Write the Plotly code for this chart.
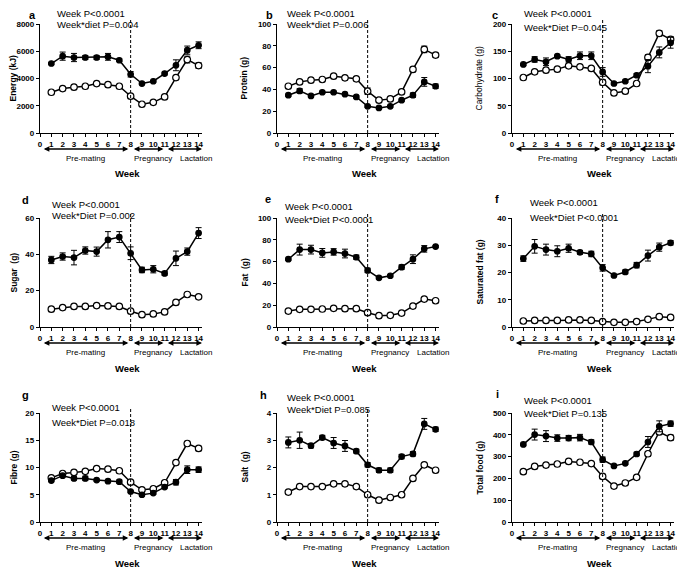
import plotly.graph_objects as go

weeks = list(range(1, 15))

# panel order: a..i
letters = ["a", "b", "c", "d", "e", "f", "g", "h", "i"]
ytitles = ["Energy (kJ)", "Protein (g)", "Carbohydrate (g)",
           "Sugar  (g)", "Fat  (g)", "Saturated fat (g)",
           "Fibre (g)", "Salt  (g)", "Total food (g)"]
week_p = ["Week P<0.0001"] * 9
inter_p = ["Week*diet P=0.004", "Week*diet P=0.006", "Week*Diet P=0.045",
           "Week*Diet P=0.002", "Week*Diet P<0.0001", "Week*Diet P<0.0001",
           "Week*Diet P=0.018", "Week*Diet P=0.085", "Week*Diet P=0.135"]
ytop = [8000, 100, 200, 60, 100, 40, 20, 4, 500]
ydtick = [2000, 20, 50, 20, 20, 10, 5, 1, 100]

# closed (filled) circles
energy_c = [5100, 5640, 5540, 5540, 5540, 5590, 5340, 4310, 3630, 3800, 4360, 4970, 6080, 6440]
energy_c_err = [80, 300, 300, 150, 150, 250, 100, 200, 60, 60, 100, 400, 300, 250]
energy_o = [2990, 3260, 3360, 3430, 3630, 3550, 3430, 2700, 2110, 2250, 2650, 4070, 5390, 4950]
energy_o_err = [60, 60, 60, 60, 60, 60, 60, 120, 60, 60, 60, 80, 250, 200]

protein_c = [34.7, 38.6, 34.0, 37.4, 37.4, 35.6, 33.1, 24.5, 23.0, 24.5, 30.1, 34.7, 46.9, 42.9]
protein_c_err = [1, 2, 1, 1, 1, 1, 1, 1, 0.8, 0.8, 1, 2, 4, 2]
protein_o = [42.9, 46.9, 48.5, 49.1, 52.1, 50.6, 49.7, 38.3, 30.1, 31.3, 37.7, 58.3, 76.7, 71.5]
protein_o_err = [1, 1, 1, 1, 1, 1, 1, 3, 1, 1, 1, 2, 3, 2]

carb_c = [125.8, 135, 130.7, 141, 135, 141.7, 141.7, 112, 90.8, 95, 106, 122.7, 147.9, 165.6]
carb_c_err = [2, 5, 7, 2, 5, 7, 7, 8, 2, 2, 3, 12, 10, 10]
carb_o = [101.8, 112.3, 115.3, 117.2, 123.3, 121.5, 118.4, 93, 73.6, 76.7, 90.8, 138.6, 182.8, 171.8]
carb_o_err = [2, 2, 2, 2, 2, 2, 2, 5, 2, 2, 2, 5, 5, 5]

sugar_c = [36.9, 38.8, 38.2, 42.1, 41.5, 48.0, 49.5, 40.6, 31.4, 31.8, 29.5, 37.8, 41.5, 51.7]
sugar_c_err = [2, 2, 4, 2, 2.5, 4.5, 3, 3.5, 1.5, 2, 1, 4, 2, 3]
sugar_o = [9.8, 10.7, 11.3, 11.3, 11.8, 11.6, 11.3, 8.7, 6.8, 7.2, 8.3, 13.5, 17.9, 16.6]
sugar_o_err = [0.3] * 14

fat_c = [62.2, 71.0, 71.0, 68.0, 68.9, 67.4, 64.0, 51.9, 45.1, 47.0, 54.9, 62.2, 71.7, 73.8]
fat_c_err = [1, 5, 4, 4, 3, 4, 2, 2, 1, 1, 2, 4, 3, 1]
fat_o = [14.6, 16.2, 16.2, 16.5, 17.1, 16.8, 16.8, 13.1, 10.4, 10.7, 12.8, 19.2, 25.6, 24.1]
fat_o_err = [0.5] * 14

satfat_c = [25.1, 29.6, 28.4, 27.8, 28.9, 27.4, 26.8, 21.7, 18.9, 20.2, 22.7, 26.2, 29.3, 30.9]
satfat_c_err = [1, 2.5, 2, 2, 1.5, 0.7, 1, 1.2, 0.4, 0.7, 1, 2, 1.5, 0.8]
satfat_o = [2.2, 2.4, 2.4, 2.4, 2.6, 2.6, 2.4, 2.0, 1.7, 1.7, 2.0, 2.8, 3.8, 3.5]
satfat_o_err = [0.1] * 14

fibre_c = [7.6, 8.5, 8.0, 8.0, 7.7, 7.5, 7.4, 5.6, 5.0, 5.3, 6.4, 7.3, 9.6, 9.6]
fibre_c_err = [0.2, 0.2, 0.3, 0.4, 0.2, 0.2, 0.3, 0.2, 0.2, 0.2, 0.2, 0.5, 0.7, 0.5]
fibre_o = [8.1, 8.9, 9.1, 9.3, 9.8, 9.7, 9.4, 7.3, 5.9, 6.1, 7.2, 10.9, 14.4, 13.5]
fibre_o_err = [0.15, 0.15, 0.15, 0.15, 0.15, 0.15, 0.15, 0.3, 0.15, 0.15, 0.15, 0.2, 0.4, 0.4]

salt_c = [2.92, 3.0, 2.8, 3.1, 2.9, 2.79, 2.6, 2.1, 1.9, 1.9, 2.4, 2.5, 3.6, 3.4]
salt_c_err = [0.2, 0.3, 0.08, 0.08, 0.2, 0.2, 0.07, 0.08, 0.08, 0.08, 0.08, 0.08, 0.2, 0.08]
salt_o = [1.1, 1.3, 1.3, 1.3, 1.4, 1.4, 1.3, 1.0, 0.8, 0.9, 1.0, 1.6, 2.1, 1.9]
salt_o_err = [0.03] * 14

food_c = [356, 401, 394, 385, 385, 387, 367, 286, 257, 269, 312, 367, 439, 451]
food_c_err = [6, 25, 25, 15, 12, 15, 10, 12, 5, 5, 8, 25, 25, 12]
food_o = [231, 255, 261, 266, 278, 274, 268, 209, 165, 179, 205, 313, 413, 387]
food_o_err = [4, 4, 4, 4, 4, 4, 4, 10, 4, 4, 4, 10, 12, 12]

closed = [energy_c, protein_c, carb_c, sugar_c, fat_c, satfat_c, fibre_c, salt_c, food_c]
closed_err = [energy_c_err, protein_c_err, carb_c_err, sugar_c_err, fat_c_err,
              satfat_c_err, fibre_c_err, salt_c_err, food_c_err]
opened = [energy_o, protein_o, carb_o, sugar_o, fat_o, satfat_o, fibre_o, salt_o, food_o]
opened_err = [energy_o_err, protein_o_err, carb_o_err, sugar_o_err, fat_o_err,
              satfat_o_err, fibre_o_err, salt_o_err, food_o_err]

phases = [("Pre-mating", 0.2, 7.8, 4.0), ("Pregnancy", 8.15, 10.9, 10.0),
          ("Lactation", 11.15, 14.3, 13.8)]

# the page body puts the figure 8px in from the window corner;
# positions below are given in window pixels
OFF = 8
W, H = 685, 568
FONT = "Liberation Sans, Arial, sans-serif"


def fx(px):
    return (px - OFF) / W


def fy(py):
    return 1 - (py - OFF) / H


col_left = [40, 277, 512]
row_top = [24, 218, 413]
pw, ph = 162, 109

# per-panel offsets (px) for letter and stats text, relative to panel top-left
letter_off = [(-7, -20), (-8, -19), (-17, -19), (-15, -18), (-9, -19),
              (-15, -19), (-15, -18), (-14, -18), (-15, -19)]
stats_off = [(15, -17, -3), (8, -18, -2), (10, -11, 4), (10, -14, -2), (6, -11, 2),
             (16, -16, -1), (10, -6, 9), (8, -16, -3), (10, -13, 0)]

fig = go.Figure()
annotations = []
shapes = []

for k in range(9):
    r, c = divmod(k, 3)
    left, top = col_left[c], row_top[r]
    bot = top + ph
    n = k + 1
    xa = "x" if n == 1 else f"x{n}"
    ya = "y" if n == 1 else f"y{n}"

    for vals, errs, filled in [(opened[k], opened_err[k], False), (closed[k], closed_err[k], True)]:
        fig.add_trace(go.Scatter(
            x=weeks, y=vals, xaxis=xa, yaxis=ya, mode="lines+markers",
            line=dict(color="black", width=1.5),
            marker=dict(symbol="circle", size=5.5 if filled else 6.5,
                        color="black" if filled else "white",
                        line=dict(color="black", width=1.2)),
            error_y=dict(type="data", array=errs, color="black", thickness=1, width=3),
            showlegend=False, cliponaxis=False, hoverinfo="skip"))

    axis_common = dict(showline=True, linecolor="black", linewidth=1.3,
                       ticks="outside", ticklen=3, tickwidth=1.3, tickcolor="black",
                       showgrid=False, zeroline=False, tickangle=0,
                       tickfont=dict(family=FONT, size=8, color="black", weight="bold"))
    fig.layout[f"xaxis{n if n > 1 else ''}"] = dict(
        domain=[fx(left), fx(left + pw)], anchor=ya, range=[0, 14.3],
        tickvals=list(range(0, 15)), **axis_common)
    fig.layout[f"yaxis{n if n > 1 else ''}"] = dict(
        domain=[fy(bot), fy(top)], anchor=xa, range=[0, ytop[k]],
        dtick=ydtick[k], tick0=0, **axis_common)

    # dashed line at week 8
    shapes.append(dict(type="line", xref=xa, yref=f"{ya} domain", x0=8, x1=8, y0=0, y1=1.04,
                       line=dict(color="black", width=1, dash="3px,2px")))

    # phase arrows and labels
    for name, x0, x1, xl in phases:
        annotations.append(dict(xref=xa, yref="paper", x=x1, y=fy(bot + 16), axref=xa,
                                ayref="pixel", ax=x0, ay=0, text="", showarrow=True,
                                arrowhead=2, arrowside="end+start", arrowsize=0.8,
                                arrowwidth=1.4, arrowcolor="black",
                                standoff=0, startstandoff=0))
        annotations.append(dict(xref=xa, yref="paper", x=xl, y=fy(bot + 25), text=name,
                                showarrow=False, xanchor="center", yanchor="middle",
                                font=dict(family=FONT, size=8, color="black")))

    # x title
    annotations.append(dict(xref="paper", yref="paper", x=fx(left + 87), y=fy(bot + 41),
                            text="<b>Week</b>", showarrow=False, xanchor="center",
                            yanchor="middle", font=dict(family=FONT, size=9.5, color="black")))
    # y title (kept clear of the 8px page edge)
    yt = ytitles[k] if k == 2 else f"<b>{ytitles[k]}</b>"
    annotations.append(dict(xref="paper", yref="paper", x=fx(max(left - 33, 13)),
                            y=fy(top + ph / 2), text=yt, showarrow=False, textangle=-90,
                            xanchor="center", yanchor="middle",
                            font=dict(family=FONT, size=8.5, color="black")))
    # panel letter
    lx, ly = letter_off[k]
    annotations.append(dict(xref="paper", yref="paper", x=fx(left + lx),
                            y=fy(max(top + ly, 15)), text=f"<b>{letters[k]}</b>",
                            showarrow=False, xanchor="center", yanchor="middle",
                            font=dict(family=FONT, size=11, color="black")))
    # stats text
    sx, s1, s2 = stats_off[k]
    y1 = max(top + s1, 13)
    y2 = max(top + s2, y1 + 11.5)
    for txt, sy in [(week_p[k], y1), (inter_p[k], y2)]:
        annotations.append(dict(xref="paper", yref="paper", x=fx(left + sx), y=fy(sy),
                                text=txt, showarrow=False, xanchor="left", yanchor="middle",
                                font=dict(family=FONT, size=9.5, color="black")))

fig.update_layout(width=W, height=H,
                  margin=dict(l=0, r=0, t=0, b=0, autoexpand=False),
                  plot_bgcolor="white", paper_bgcolor="white",
                  annotations=annotations, shapes=shapes)

fig.write_html("out.html")
